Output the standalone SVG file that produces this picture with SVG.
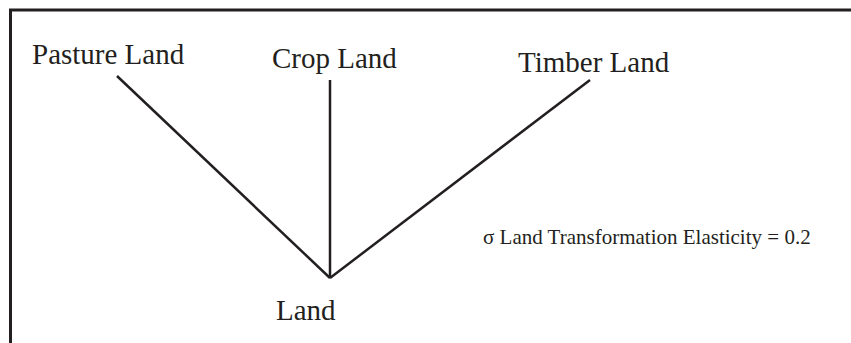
<svg xmlns="http://www.w3.org/2000/svg" width="851" height="343" viewBox="0 0 851 343">
<style>
.lbl{font-family:"Liberation Serif","Times New Roman",serif;font-size:29px;fill:#231f20}
.note{font-family:"Liberation Serif","Times New Roman",serif;font-size:21px;fill:#231f20}
.edge{stroke:#231f20;stroke-width:2.5;fill:none}
</style>
<rect width="851" height="343" fill="#fff"/>
<path d="M10.5,343 V10 H851" fill="none" stroke="#231f20" stroke-width="3"/>
<g id="connectors">
<line class="edge" x1="117" y1="76" x2="330" y2="278"/>
<line class="edge" x1="330" y1="80" x2="330" y2="278"/>
<line class="edge" x1="590" y1="80" x2="330" y2="278"/>
</g>
<g id="pasture"><text class="lbl" x="32" y="64">Pasture Land</text></g>
<g id="crop"><text class="lbl" x="272" y="68">Crop Land</text></g>
<g id="timber"><text class="lbl" x="518" y="72">Timber Land</text></g>
<g id="land"><text class="lbl" x="276" y="320">Land</text></g>
<g id="note"><text class="note" x="483" y="244">σ Land Transformation Elasticity = 0.2</text></g>
</svg>
